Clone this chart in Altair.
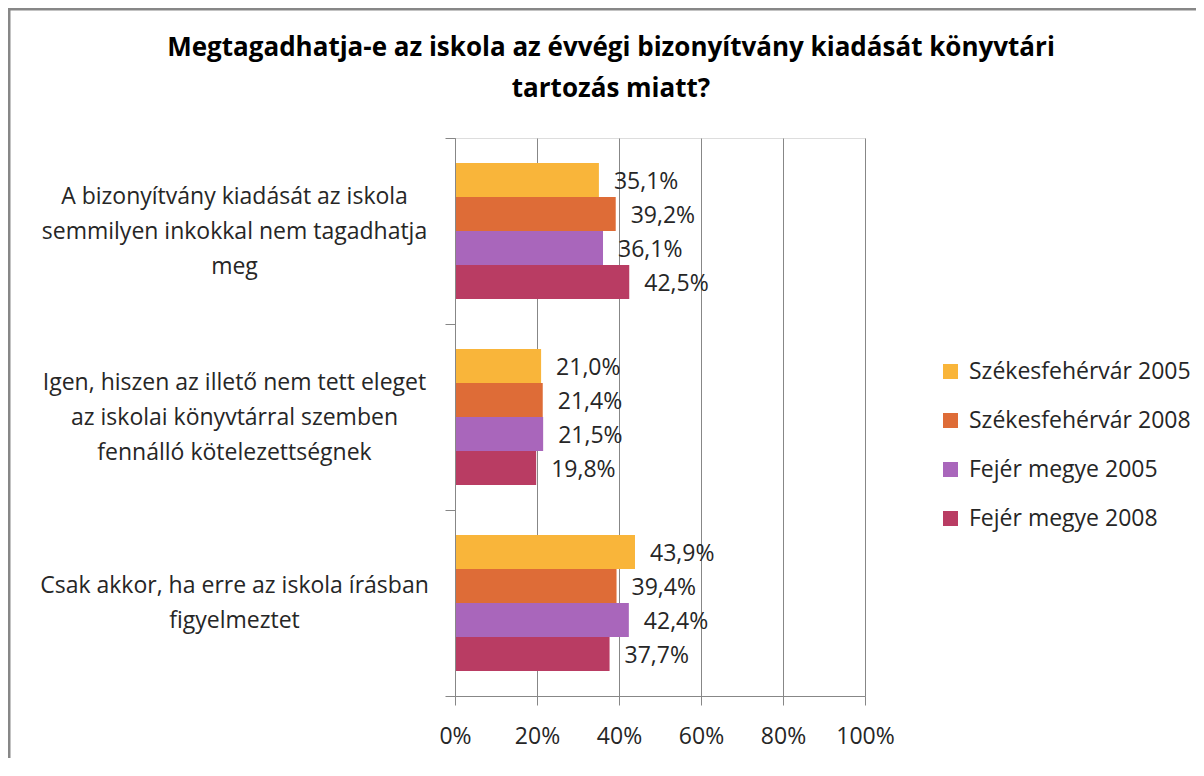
import altair as alt
import pandas as pd

title_lines = [
    "Megtagadhatja-e az iskola az évvégi bizonyítvány kiadását  könyvtári",
    "tartozás miatt?",
]
categories = [
    "A bizonyítvány kiadását az iskola|semmilyen inkokkal nem tagadhatja|meg",
    "Igen, hiszen az illető nem tett eleget|az iskolai könyvtárral szemben|fennálló kötelezettségnek",
    "Csak akkor, ha erre az iskola írásban|figyelmeztet",
]
series = ["Székesfehérvár 2005", "Székesfehérvár 2008", "Fejér megye 2005", "Fejér megye 2008"]
colors = ["#F9B53A", "#DE6C37", "#A966BB", "#B93C63"]
szfv_2005 = [0.351, 0.210, 0.439]
szfv_2008 = [0.392, 0.214, 0.394]
fejer_2005 = [0.361, 0.215, 0.424]
fejer_2008 = [0.425, 0.198, 0.377]
x_ticks = [0, 0.2, 0.4, 0.6, 0.8, 1.0]

values_by_series = [szfv_2005, szfv_2008, fejer_2005, fejer_2008]
rows = []
for s, vals in zip(series, values_by_series):
    for c, v in zip(categories, vals):
        rows.append({"category": c, "series": s, "value": v})
df = pd.DataFrame(rows)

FONT = "Open Sans"
TXT = "#262626"
GRAY = "#878787"

base = alt.Chart(df).encode(
    y=alt.Y(
        "category:N",
        sort=categories,
        scale=alt.Scale(paddingInner=0, paddingOuter=0),
        axis=alt.Axis(
            title=None,
            labelExpr="split(datum.label, '|')",
            labelAlign="center",
            labelBaseline="middle",
            labelPadding=211,
            labelLineHeight=35,
            labelFontSize=23,
            labelFont=FONT,
            labelColor=TXT,
            labelLimit=0,
            labelOffset=alt.condition(
                "length(split(datum.value, '|')) == 2", alt.value(-17.5), alt.value(-35)
            ),
            tickBand="extent",
            tickSize=10,
            tickColor=GRAY,
            domainColor=GRAY,
            grid=False,
            zindex=1,
        ),
    ),
    yOffset=alt.YOffset(
        "series:N", sort=series, scale=alt.Scale(paddingInner=0, paddingOuter=0.735)
    ),
)

bars = base.mark_bar().encode(
    x=alt.X(
        "value:Q",
        scale=alt.Scale(domain=[0, 1]),
        axis=alt.Axis(
            values=x_ticks,
            format="%",
            title=None,
            grid=True,
            gridColor=GRAY,
            gridWidth=1,
            tickSize=9,
            tickColor=GRAY,
            domainColor=GRAY,
            labelFontSize=23,
            labelFont=FONT,
            labelColor=TXT,
            labelPadding=20,
            labelFlush=False,
            labelOverlap=False,
        ),
    ),
    color=alt.Color(
        "series:N",
        sort=series,
        scale=alt.Scale(domain=series, range=colors),
        legend=alt.Legend(
            title=None,
            orient="none",
            legendX=484,
            legendY=222,
            symbolType="square",
            symbolSize=225,
            symbolStrokeWidth=0,
            labelFontSize=23,
            labelFont=FONT,
            labelColor=TXT,
            labelOffset=7,
            rowPadding=25,
            padding=0,
            labelLimit=0,
        ),
    ),
)

labels = base.mark_text(
    align="left", baseline="middle", dx=15, dy=2, fontSize=23, font=FONT, color=TXT
).transform_calculate(
    lbl="replace(format(datum.value, '.1%'), '.', ',')"
).encode(x="value:Q", text="lbl:N")

border = alt.Chart(pd.DataFrame({"b": [1]})).mark_rect(
    fill=None, stroke=GRAY, strokeWidth=2.5
).encode(
    x=alt.value(-445.75), x2=alt.value(900), y=alt.value(-128.75), y2=alt.value(800)
)

chart = alt.layer(bars, labels, border).properties(
    width=410,
    height=558,
    autosize=alt.AutoSizeParams(type="none"),
    padding={"left": 447, "top": 130, "right": 331, "bottom": 62},
    title=alt.TitleParams(
        text=title_lines,
        fontSize=26,
        font=FONT,
        fontWeight="bold",
        color="black",
        anchor="middle",
        frame="group",
        dx=-49,
        lineHeight=41,
        offset=-94,
    ),
).configure_view(stroke=None).configure(background="white")

chart.save("out.html", embed_options={"renderer": "svg", "actions": False})
